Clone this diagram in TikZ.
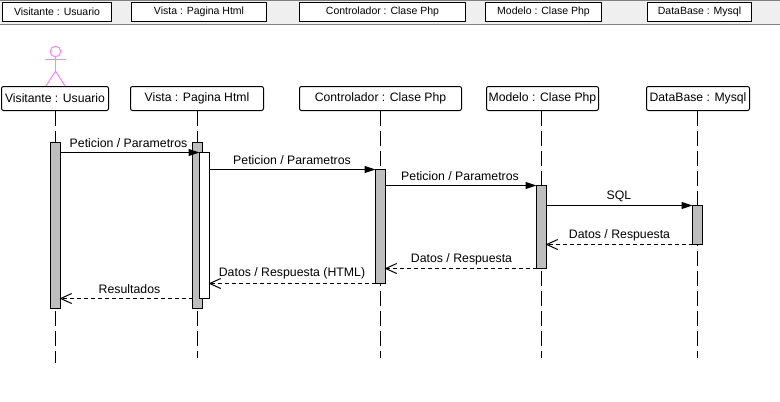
\documentclass[tikz,border=0pt]{standalone}
\usepackage{fontspec}
\setmainfont{Liberation Sans}
\usetikzlibrary{arrows.meta,calc}
\definecolor{barbg}{HTML}{EFEFEF}
\definecolor{barline}{HTML}{808080}
\definecolor{actorpink}{HTML}{FF80FF}
\definecolor{actgray}{HTML}{BEBEBE}
\tikzset{
  x=1pt,y=-1pt,
  headbox/.style={draw=black,line width=1pt,fill=white,inner sep=0pt,outer sep=0pt,minimum height=19pt,font=\fontsize{10.5}{12}\selectfont,anchor=north west},
  lifehead/.style={draw=black,line width=1pt,fill=white,rounded corners=2pt,inner sep=0pt,outer sep=0pt,minimum height=24pt,font=\fontsize{12.2}{14}\selectfont,anchor=north west},
  lifeline/.style={line width=1pt,dash pattern=on 15pt off 5pt},
  actbox/.style={draw=black,line width=1pt,fill=actgray,inner sep=0pt,outer sep=0pt,minimum width=10pt,anchor=north west},
  actwhite/.style={actbox,fill=white},
  callmsg/.style={line width=1pt,-{Triangle[length=11pt,width=7pt]}},
  retmsg/.style={line width=1pt,dash pattern=on 4pt off 3pt,shorten >=-1pt,-{Straight Barb[length=11pt,width=10pt,line width=1pt]}},
  msglabel/.style={inner sep=0pt,font=\fontsize{12.3}{14}\selectfont,anchor=center},
  actorline/.style={draw=actorpink,line width=1pt}
}
\begin{document}
\begin{tikzpicture}
\useasboundingbox (0,0) rectangle (780,402);
\fill[white] (0,0) rectangle (780,402);
% header bar
\fill[barbg] (0,0) rectangle (780,25);
\draw[barline,line width=1pt] (0,0.5) -- (780,0.5);
\draw[barline,line width=1pt] (0,24.5) -- (780,24.5);
\node[headbox,minimum width=109pt] (h1) at (2.5,2.5) {Visitante : Usuario};
\node[headbox,minimum width=135pt] (h2) at (131.5,2.5) {Vista : Pagina Html};
\node[headbox,minimum width=166pt] (h3) at (299.5,2.5) {Controlador : Clase Php};
\node[headbox,minimum width=116pt] (h4) at (485.5,2.5) {Modelo : Clase Php};
\node[headbox,minimum width=104pt] (h5) at (647.5,2.5) {DataBase : Mysql};
% lifeline heads
\node[lifehead,minimum width=107pt] (l1) at (1.5,86.5) {Visitante : Usuario};
\node[lifehead,minimum width=133pt] (l2) at (130.5,86.5) {Vista : Pagina Html};
\node[lifehead,minimum width=162pt] (l3) at (299.5,86.5) {Controlador : Clase Php};
\node[lifehead,minimum width=112pt] (l4) at (486.5,86.5) {Modelo : Clase Php};
\node[lifehead,minimum width=103pt] (l5) at (646.5,86.5) {DataBase : Mysql};
% lifeline ends
\coordinate (e1) at (55.5,363);
\coordinate (e2) at (197.5,358);
\coordinate (e3) at (380.5,358);
\coordinate (e4) at (541.5,358);
\coordinate (e5) at (697.5,358);
\draw[lifeline] (55.5,111) -- (e1);
\draw[lifeline] (197.5,111) -- (e2);
\draw[lifeline] (380.5,111) -- (e3);
\draw[lifeline] (541.5,111) -- (e4);
\draw[lifeline] (697.5,111) -- (e5);
% actor
\node[circle,actorline,fill=white,minimum size=10.6pt,inner sep=0pt,outer sep=0pt] (head) at (55.5,51.5) {};
\coordinate (hip) at (55.5,71);
\coordinate (armL) at (45,59);
\coordinate (armR) at (66,59);
\coordinate (footL) at (46,86);
\coordinate (footR) at (65,86);
\draw[actorline] (head.south) -- (hip);
\draw[actorline] (armL) -- (armR);
\draw[actorline] (footL) -- (hip) -- (footR);
% activations
\node[actbox,minimum height=166pt] (a1) at (50.5,142.5) {};
\node[actbox,minimum height=166pt] (a2) at (192.5,142.5) {};
\node[actwhite,minimum height=146pt] (a2b) at (199.5,152.5) {};
\node[actbox,minimum height=114pt] (a3) at (375.5,169.5) {};
\node[actbox,minimum height=83pt] (a4) at (536.5,185.5) {};
\node[actbox,minimum height=39pt] (a5) at (692.5,205.5) {};
% calls
\draw[callmsg] (a1.east |- 0,152.5) -- (a2b.west |- 0,152.5);
\draw[callmsg] (a2b.east |- 0,169.5) -- (a3.west |- 0,169.5);
\draw[callmsg] (a3.east |- 0,185.5) -- (a4.west |- 0,185.5);
\draw[callmsg] (a4.east |- 0,205.5) -- (a5.west |- 0,205.5);
% returns
\draw[retmsg] (a5.west |- 0,244.5) -- (a4.east |- 0,244.5);
\draw[retmsg] (a4.west |- 0,268.5) -- (a3.east |- 0,268.5);
\draw[retmsg] (a3.west |- 0,283.5) -- (a2b.east |- 0,283.5);
\draw[retmsg] (a2.west |- 0,298.5) -- (a1.east |- 0,298.5);
% labels
\node[msglabel] (m1) at (128.5,143) {Peticion / Parametros};
\node[msglabel] (m2) at (292,160) {Peticion / Parametros};
\node[msglabel] (m3) at (460,176) {Peticion / Parametros};
\node[msglabel] (m4) at (619,196) {SQL};
\node[msglabel] (m5) at (619.5,235) {Datos / Respuesta};
\node[msglabel] (m6) at (461.5,259) {Datos / Respuesta};
\node[msglabel] (m7) at (292,273) {Datos / Respuesta (HTML)};
\node[msglabel] (m8) at (129.5,289) {Resultados};
\end{tikzpicture}
\end{document}
